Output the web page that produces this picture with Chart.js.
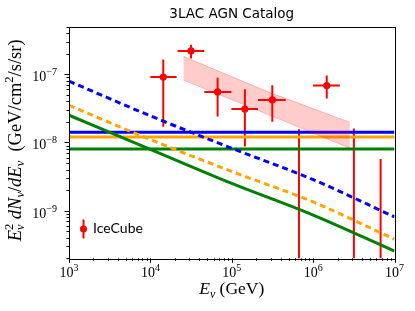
<!DOCTYPE html>
<html><head><meta charset="utf-8">
<script src="https://cdn.jsdelivr.net/npm/chart.js@4.4.0/dist/chart.umd.min.js"></script>
<style>html,body{margin:0;padding:0;background:#fff;}canvas{display:block;}</style>
</head><body>
<canvas id="c" width="415" height="311"></canvas>
<script>
// ---- data ----
const titleText = '3LAC AGN Catalog';
const legendLabel = 'IceCube';
const xTickExponents = [3, 4, 5, 6, 7];
const yTickExponents = [-9, -8, -7];

const lineEnergies = [1e3, 1e4, 1e5, 1e6, 1e7];
const blueDashed   = [7.9e-8, 2.45e-8, 8.2e-9, 2.85e-9, 8.1e-10];
const orangeDashed = [3.5e-8, 1.1e-8, 3.75e-9, 1.34e-9, 3.8e-10];
const greenSolid   = [2.5e-8, 7.9e-9, 2.5e-9, 8.6e-10, 2.55e-10];

const flatEnergies = [1e3, 1e7];
const blueFlat = 1.41e-8;
const orangeFlat = 1.2e-8;
const greenFlat = 8.0e-9;

const bandEnergies = [2.54e4, 2.7e5, 2.83e6];
const bandUpper = [1.83e-7, 5.6e-8, 1.97e-8];
const bandLower = [8.2e-8, 2.6e-8, 8.2e-9];

const iceE    = [1.44e4, 3.16e4, 6.7e4, 1.45e5, 3.15e5, 1.47e6];
const iceF    = [9.1e-8, 2.19e-7, 5.5e-8, 3.08e-8, 4.2e-8, 6.8e-8];
const iceELo  = [1.0e4, 2.16e4, 4.6e4, 9.9e4, 2.1e5, 1.0e6];
const iceEHi  = [2.1e4, 4.6e4, 9.9e4, 2.1e5, 4.6e5, 2.13e6];
const iceFLo  = [1.7e-8, 1.7e-7, 2.4e-8, 8.7e-9, 2.0e-8, 4.4e-8];
const iceFHi  = [1.64e-7, 2.7e-7, 8.9e-8, 6.0e-8, 6.9e-8, 9.6e-8];

// bins whose central value lies below the plotted range
const lowE   = [6.7e5, 3.17e6, 6.75e6];
const lowFLo = [1e-11, 1e-11, 1e-11];
const lowFHi = [1.56e-8, 1.6e-8, 5.7e-9];

// ---- helpers ----
const pts = (xs, ys) => xs.map((x, i) => ({x, y: ys[i]}));
const SERIF = '"Liberation Serif", "DejaVu Serif", serif';
const SANS = 'Lato, "DejaVu Sans", sans-serif';
const TSANS = '"DejaVu Sans", sans-serif';

function drawRich(ctx, pieces, x, y, align) {
  let w = 0;
  const widths = pieces.map(p => { ctx.font = p.f; return ctx.measureText(p.t).width; });
  let sw = 0;
  pieces.forEach((p, i) => {
    if (p.stack) { sw = widths[i]; }
    else { w += Math.max(widths[i], p.afterStack ? sw : 0); sw = 0; }
  });
  let cx = align === 'center' ? x - w / 2 : (align === 'right' ? x - w : x);
  let stackW = 0;
  pieces.forEach((p, i) => {
    ctx.font = p.f;
    ctx.fillText(p.t, cx, y + (p.dy || 0));
    if (p.stack) { stackW = widths[i]; }
    else { cx += Math.max(widths[i], p.afterStack ? stackW : 0); stackW = 0; }
  });
}

const errPlugin = {
  id: 'errbars',
  beforeDatasetDraw(chart, args) {
    if (args.index !== 8) return;
    const {ctx, chartArea: a, scales: {x, y}} = chart;
    ctx.save();
    ctx.beginPath(); ctx.rect(a.left, a.top, a.right - a.left, a.bottom - a.top); ctx.clip();
    ctx.strokeStyle = '#ff0000'; ctx.lineWidth = 2;
    ctx.beginPath();
    iceE.forEach((e, i) => {
      const px = x.getPixelForValue(e), py = y.getPixelForValue(iceF[i]);
      ctx.moveTo(x.getPixelForValue(iceELo[i]), py); ctx.lineTo(x.getPixelForValue(iceEHi[i]), py);
      ctx.moveTo(px, y.getPixelForValue(iceFLo[i])); ctx.lineTo(px, y.getPixelForValue(iceFHi[i]));
    });
    lowE.forEach((e, i) => {
      const px = x.getPixelForValue(e);
      ctx.moveTo(px, y.getPixelForValue(lowFLo[i])); ctx.lineTo(px, y.getPixelForValue(lowFHi[i]));
    });
    ctx.stroke();
    ctx.restore();
  }
};

const decorPlugin = {
  id: 'decor',
  afterDraw(chart) {
    const {ctx, chartArea: a, scales: {x, y}} = chart;
    ctx.save();
    ctx.strokeStyle = '#000'; ctx.lineWidth = 1;
    ctx.strokeRect(Math.round(a.left) + 0.5, Math.round(a.top) + 0.5,
                   Math.round(a.right - a.left), Math.round(a.bottom - a.top));
    // ticks
    ctx.beginPath();
    for (let n = xTickExponents[0]; n <= xTickExponents[xTickExponents.length - 1]; n++) {
      for (let k = 1; k <= 9; k++) {
        const v = k * Math.pow(10, n);
        if (v > x.max * 1.0001) break;
        const px = Math.round(x.getPixelForValue(v)) + 0.5;
        const len = k === 1 ? 4.5 : 2.5;
        ctx.moveTo(px, a.bottom); ctx.lineTo(px, a.bottom + len);
      }
    }
    for (let n = -10; n <= -7; n++) {
      for (let k = 1; k <= 9; k++) {
        const v = k * Math.pow(10, n);
        if (v < y.min * 0.9999 || v > y.max * 1.0001) continue;
        const py = Math.round(y.getPixelForValue(v)) + 0.5;
        const len = k === 1 ? 4.5 : 2.5;
        ctx.moveTo(a.left, py); ctx.lineTo(a.left - len, py);
      }
    }
    ctx.stroke();
    ctx.fillStyle = '#000';
    ctx.textBaseline = 'alphabetic';
    xTickExponents.forEach(n => {
      const px = x.getPixelForValue(Math.pow(10, n));
      drawRich(ctx, [{t: '10', f: '14px ' + SERIF}, {t: String(n), f: '10px ' + SERIF, dy: -6}], px, a.bottom + 19, 'center');
    });
    yTickExponents.forEach(n => {
      const py = y.getPixelForValue(Math.pow(10, n));
      drawRich(ctx, [{t: '10', f: '14px ' + SERIF}, {t: '\u2212' + String(-n), f: '10px ' + SERIF, dy: -6}], a.left - 12, py + 7, 'right');
    });
    // x title
    const cxm = (a.left + a.right) / 2;
    drawRich(ctx, [
      {t: 'E', f: 'italic 17.5px ' + SERIF},
      {t: '\u03bd', f: 'italic 12px ' + SERIF, dy: 3.5},
      {t: ' (GeV)', f: '17.5px ' + SERIF}
    ], cxm, 294, 'center');
    // y title
    ctx.save();
    ctx.translate(20.5, (a.top + a.bottom) / 2 - 2);
    ctx.rotate(-Math.PI / 2);
    drawRich(ctx, [
      {t: 'E', f: 'italic 18.5px ' + SERIF},
      {t: '2', f: '12.5px ' + SERIF, dy: -8, stack: true},
      {t: '\u03bd', f: 'italic 12.5px ' + SERIF, dy: 3.5, afterStack: true},
      {t: ' dN', f: 'italic 18.5px ' + SERIF},
      {t: '\u03bd', f: 'italic 12.5px ' + SERIF, dy: 3.5},
      {t: '/', f: '18.5px ' + SERIF},
      {t: 'dE', f: 'italic 18.5px ' + SERIF},
      {t: '\u03bd', f: 'italic 12.5px ' + SERIF, dy: 3.5},
      {t: '  (GeV/cm', f: '18.5px ' + SERIF},
      {t: '2', f: '12.5px ' + SERIF, dy: -7.5},
      {t: '/s/sr)', f: '18.5px ' + SERIF}
    ], 0, 0, 'center');
    ctx.restore();
    // title
    ctx.font = '13.5px ' + TSANS;
    ctx.textAlign = 'center';
    ctx.fillText(titleText, cxm, 18);
    ctx.textAlign = 'left';
    // legend
    const lx = 83.5, ly = 229;
    ctx.strokeStyle = '#ff0000'; ctx.lineWidth = 2;
    ctx.beginPath(); ctx.moveTo(lx, ly - 9.5); ctx.lineTo(lx, ly + 9.5); ctx.stroke();
    ctx.fillStyle = '#ff0000';
    ctx.beginPath(); ctx.arc(lx, ly, 3.5, 0, Math.PI * 2); ctx.fill();
    ctx.fillStyle = '#000';
    ctx.font = '14px ' + SANS;
    ctx.textBaseline = 'middle';
    ctx.fillText(legendLabel, 93, 228);
    ctx.restore();
  }
};

const lineDs = (data, color, dashed) => ({
  type: 'line', data, borderColor: color, borderWidth: 3, borderDash: dashed ? [6, 4] : [],
  pointRadius: 0, fill: false, cubicInterpolationMode: 'monotone'
});

new Chart(document.getElementById('c'), {
  type: 'scatter',
  data: {
    datasets: [
      {type: 'line', data: pts(bandEnergies, bandUpper), borderColor: 'rgba(255,0,0,0.22)', borderWidth: 1,
       backgroundColor: 'rgba(255,0,0,0.2)', fill: '+1', pointRadius: 0, tension: 0},
      {type: 'line', data: pts(bandEnergies, bandLower), borderColor: 'rgba(255,0,0,0.22)', borderWidth: 1,
       fill: false, pointRadius: 0, tension: 0},
      lineDs(pts(lineEnergies, blueDashed), '#0000ff', true),
      lineDs(pts(lineEnergies, orangeDashed), '#ffa500', true),
      lineDs(pts(lineEnergies, greenSolid), '#008000', false),
      lineDs(pts(flatEnergies, [blueFlat, blueFlat]), '#0000ff', false),
      lineDs(pts(flatEnergies, [orangeFlat, orangeFlat]), '#ffa500', false),
      lineDs(pts(flatEnergies, [greenFlat, greenFlat]), '#008000', false),
      {data: pts(iceE, iceF), backgroundColor: '#ff0000', borderWidth: 0, pointRadius: 3.6, pointHoverRadius: 3.6}
    ]
  },
  options: {
    responsive: false, animation: false, devicePixelRatio: 1,
    layout: {padding: {left: 69, right: 20.5, top: 26.5, bottom: 52.7}},
    plugins: {legend: {display: false}, tooltip: {enabled: false}, title: {display: false}},
    scales: {
      x: {type: 'logarithmic', min: 1e3, max: 1e7, display: false},
      y: {type: 'logarithmic', min: 2e-10, max: 5e-7, display: false}
    }
  },
  plugins: [errPlugin, decorPlugin]
});
</script>
</body></html>
